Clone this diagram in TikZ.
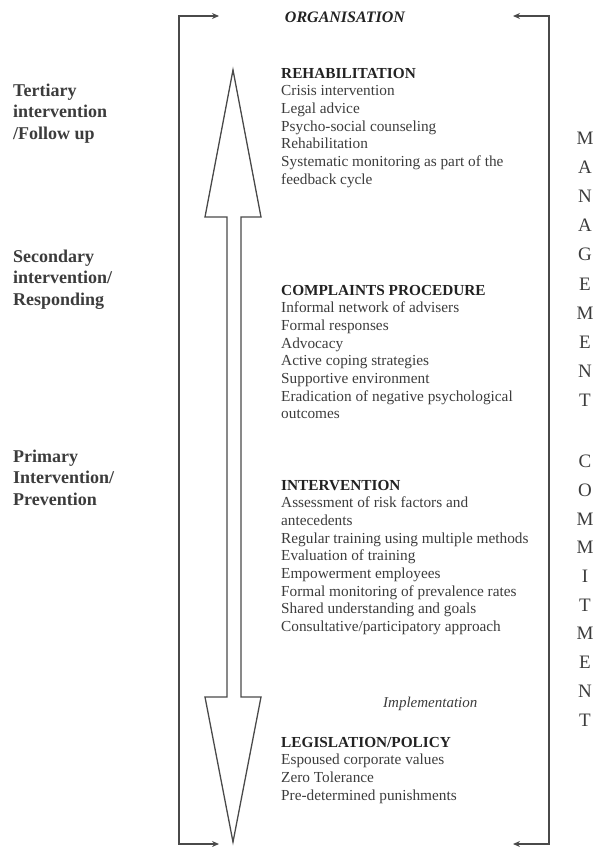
\documentclass[tikz,border=0pt]{standalone}
\usepackage{fontspec}
\setmainfont{Liberation Serif}
\usetikzlibrary{arrows.meta}
\definecolor{ink}{HTML}{3C3C3C}
\definecolor{headink}{HTML}{222222}
\definecolor{rule}{HTML}{4A4A4A}
\tikzset{
  body/.style={anchor=base west, inner sep=0pt, text=ink,
    font=\fontsize{15.3bp}{17.7bp}\selectfont},
  head/.style={anchor=base west, inner sep=0pt, text=headink,
    font=\fontsize{15.3bp}{17.7bp}\selectfont\bfseries},
  levellabel/.style={anchor=base west, inner sep=0pt, text=ink,
    font=\fontsize{18bp}{21.7bp}\selectfont\bfseries},
  vletter/.style={anchor=base, inner sep=0pt, text=ink,
    font=\fontsize{19bp}{22bp}\selectfont},
  bracket/.style={draw=rule, line width=1.6pt,
    {Stealth[length=7pt,width=6pt]}-{Stealth[length=7pt,width=6pt]}},
  bigarrow/.style={draw=rule, line width=1.3pt, fill=white, line join=miter}
}
\begin{document}
\begin{tikzpicture}[x=1bp,y=-1bp]
\useasboundingbox (0,0) rectangle (599,847);

% feedback brackets on both sides
\coordinate (ltop) at (219,16);
\coordinate (lbot) at (219,844);
\coordinate (rtop) at (513,16);
\coordinate (rbot) at (513,844);
\draw[bracket] (ltop) -- (179,16) -- (179,844) -- (lbot);
\draw[bracket] (rtop) -- (549,16) -- (549,844) -- (rbot);

% double-headed hollow arrow
\draw[bigarrow] (233,70) -- (261,217) -- (241,217) -- (241,697) -- (261,697)
  -- (233,842) -- (205,697) -- (227,697) -- (227,217) -- (205,217) -- cycle;

% top label
\node[anchor=base, inner sep=0pt, text=headink,
  font=\fontsize{16bp}{18bp}\selectfont\bfseries\itshape] (org) at (345,22) {ORGANISATION};

% rehabilitation block
\node[head] (reh) at (281,78) {REHABILITATION};
\foreach \t [count=\i] in {Crisis intervention, Legal advice,
  Psycho-social counseling, Rehabilitation,
  Systematic monitoring as part of the, feedback cycle}
  \node[body] (reh\i) at ({281},{78+17.7*\i}) {\t};

% complaints block
\node[head] (cmp) at (281,295) {COMPLAINTS PROCEDURE};
\foreach \t [count=\i] in {Informal network of advisers, Formal responses,
  Advocacy, Active coping strategies, Supportive environment,
  Eradication of negative psychological, outcomes}
  \node[body] (cmp\i) at ({281},{295+17.7*\i}) {\t};

% intervention block
\node[head] (itv) at (281,490) {INTERVENTION};
\foreach \t [count=\i] in {Assessment of risk factors and, antecedents,
  Regular training using multiple methods, Evaluation of training,
  Empowerment employees, Formal monitoring of prevalence rates,
  Shared understanding and goals, Consultative/participatory approach}
  \node[body] (itv\i) at ({281},{490+17.7*\i}) {\t};

% implementation
\node[body, font=\fontsize{15bp}{17bp}\selectfont\itshape] (impl) at (383,707) {Implementation};

% legislation block
\node[head] (leg) at (281,747) {LEGISLATION/POLICY};
\foreach \t [count=\i] in {Espoused corporate values, Zero Tolerance,
  Pre-determined punishments}
  \node[body] (leg\i) at ({281},{747+17.7*\i}) {\t};

% level labels on the left
\foreach \t [count=\i] in {Tertiary, intervention, /Follow up}
  \node[levellabel] (ter\i) at ({13},{74.3+21.7*\i}) {\t};
\foreach \t [count=\i] in {Secondary, intervention/, Responding}
  \node[levellabel] (sec\i) at ({13},{240.3+21.7*\i}) {\t};
\foreach \t [count=\i] in {Primary, Intervention/, Prevention}
  \node[levellabel] (pri\i) at ({13},{440.3+21.7*\i}) {\t};

% vertical lettering on the right
\foreach \l [count=\i] in {M,A,N,A,G,E,M,E,N,T}
  \node[vletter] (mg\i) at ({585},{115.7+29.05*\i}) {\l};
\foreach \l [count=\i] in {C,O,M,M,I,T,M,E,N,T}
  \node[vletter] (cm\i) at ({585},{439+28.7*\i}) {\l};
\end{tikzpicture}
\end{document}
